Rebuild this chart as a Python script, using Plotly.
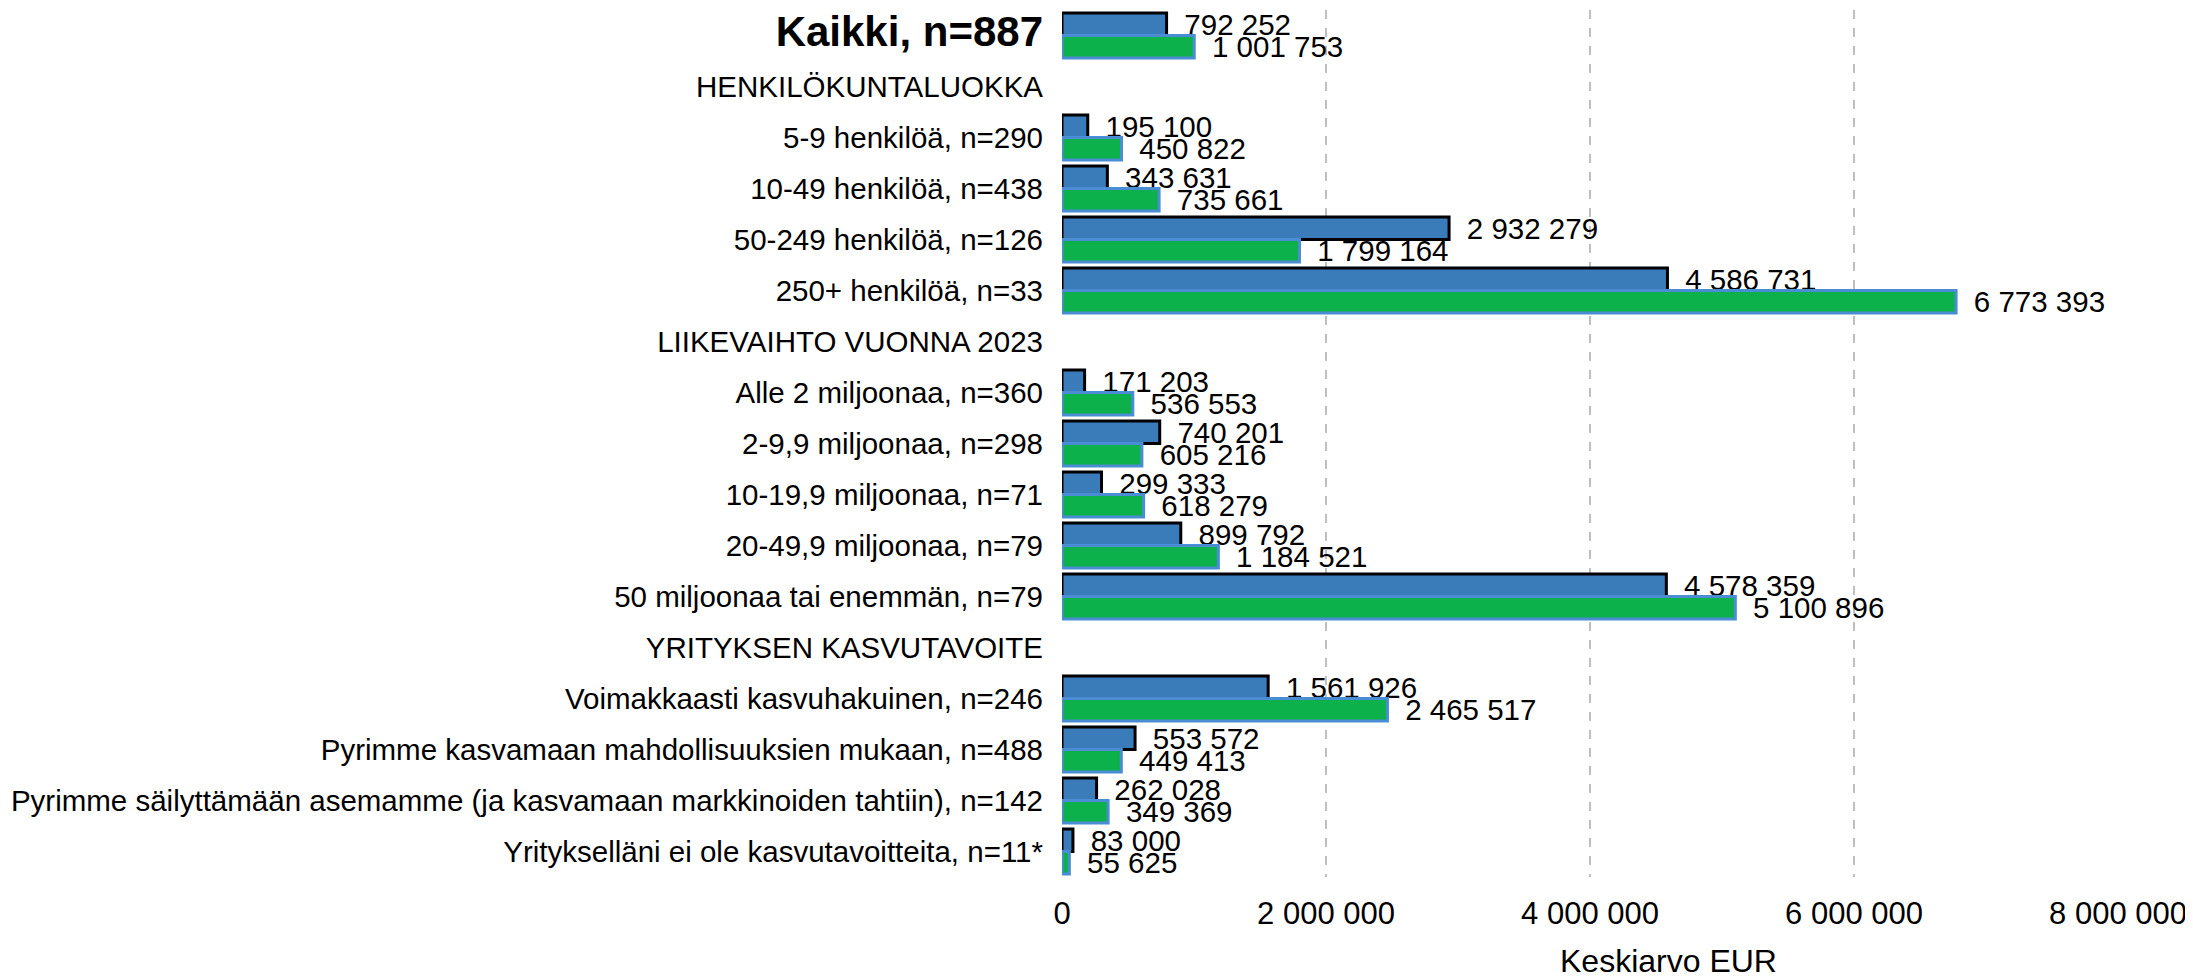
import plotly.graph_objects as go

categories = [
    "Kaikki, n=887",
    "HENKILÖKUNTALUOKKA",
    "5-9 henkilöä, n=290",
    "10-49 henkilöä, n=438",
    "50-249 henkilöä, n=126",
    "250+ henkilöä, n=33",
    "LIIKEVAIHTO VUONNA 2023",
    "Alle 2 miljoonaa, n=360",
    "2-9,9 miljoonaa, n=298",
    "10-19,9 miljoonaa, n=71",
    "20-49,9 miljoonaa, n=79",
    "50 miljoonaa tai enemmän, n=79",
    "YRITYKSEN KASVUTAVOITE",
    "Voimakkaasti kasvuhakuinen, n=246",
    "Pyrimme kasvamaan mahdollisuuksien mukaan, n=488",
    "Pyrimme säilyttämään asemamme (ja kasvamaan markkinoiden tahtiin), n=142",
    "Yritykselläni ei ole kasvutavoitteita, n=11*",
]

series_blue = [792252, None, 195100, 343631, 2932279, 4586731, None,
               171203, 740201, 299333, 899792, 4578359, None,
               1561926, 553572, 262028, 83000]
series_green = [1001753, None, 450822, 735661, 1799164, 6773393, None,
                536553, 605216, 618279, 1184521, 5100896, None,
                2465517, 449413, 349369, 55625]

x_ticks = [0, 2000000, 4000000, 6000000, 8000000]
x_title = "Keskiarvo EUR"

FONT = "Liberation Sans, Arial, sans-serif"
FS = 29.5

ticktext = [
    ("<span style='font-weight:bold;font-size:42px'>" + c + "</span>")
    if i == 0 else c
    for i, c in enumerate(categories)
]

fig = go.Figure()
fig.add_trace(go.Bar(
    y=categories, x=series_blue, orientation="h", name="A",
    marker=dict(color="#3A7BBA", line=dict(color="#000000", width=3)),
    texttemplate="\u2002%{x:,}", textposition="outside", constraintext="none",
    textfont=dict(family=FONT, size=FS, color="#000000"), cliponaxis=False,
))
fig.add_trace(go.Bar(
    y=categories, x=series_green, orientation="h", name="B",
    marker=dict(color="#0CB14B", line=dict(color="#4A8DD4", width=3)),
    texttemplate="\u2002%{x:,}", textposition="outside", constraintext="none",
    textfont=dict(family=FONT, size=FS, color="#000000"), cliponaxis=False,
))

# page body has an 8px margin, so the figure is made 8px smaller each way
fig.update_layout(
    width=2185, height=970,
    margin=dict(l=1054, r=75, t=0, b=101),
    paper_bgcolor="white", plot_bgcolor="white",
    barmode="group", bargap=0.12, bargroupgap=0,
    separators=", ",
    showlegend=False,
    font=dict(family=FONT, size=FS, color="#000000"),
    xaxis=dict(
        range=[0, 8000000], tickvals=x_ticks, tickformat=",",
        showgrid=True, gridcolor="#BFBFBF", griddash="dash", gridwidth=1.5,
        zeroline=False, showline=False, ticks="", ticklabelstandoff=15,
        tickfont=dict(family=FONT, size=31, color="#000000"),
    ),
    yaxis=dict(
        type="category", autorange="reversed",
        tickvals=categories, ticktext=ticktext,
        showgrid=False, zeroline=False, showline=False, ticks="",
        ticklabelstandoff=18,
        tickfont=dict(family=FONT, size=FS, color="#000000"),
    ),
    annotations=[dict(
        text=x_title, xref="paper", yref="paper", x=0.574, y=0,
        xanchor="center", yanchor="middle", yshift=-84, showarrow=False,
        font=dict(family=FONT, size=32, color="#000000"),
    )],
)

fig.write_html("out.html")
